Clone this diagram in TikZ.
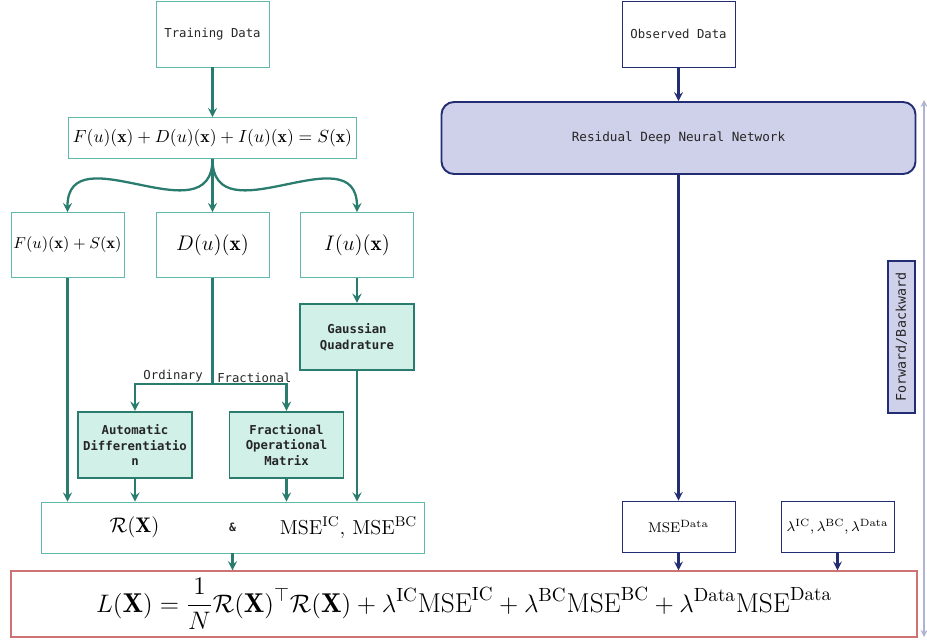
\documentclass[tikz,border=0pt]{standalone}
\usepackage{amsmath}
\usepackage{fontspec}
\setmonofont{DejaVu Sans Mono}
\usetikzlibrary{shapes.geometric, arrows}

\definecolor{tealdark}{RGB}{42,125,110}
\definecolor{teallight}{RGB}{95,185,170}
\definecolor{tealfill}{RGB}{208,240,232}
\definecolor{navyline}{RGB}{35,45,115}
\definecolor{lavender}{RGB}{207,208,234}
\definecolor{lossred}{RGB}{205,115,115}
\definecolor{fbgray}{RGB}{175,178,208}

\tikzstyle{databox} = [rectangle, minimum width=2.26cm, minimum height=1.32cm, inner sep=1pt, text centered, draw=teallight, font=\ttfamily\fontsize{7}{9}\selectfont, text=black!85]
\tikzstyle{eqbox} = [rectangle, minimum width=2.26cm, minimum height=1.3cm, inner sep=1pt, text centered, draw=teallight]
\tikzstyle{methodbox} = [rectangle, minimum width=2.28cm, minimum height=1.33cm, inner sep=1pt, align=center, draw=tealdark, line width=1.1pt, fill=tealfill, font=\ttfamily\bfseries\fontsize{7}{9}\selectfont, text=black!85]
\tikzstyle{obsbox} = [rectangle, minimum width=2.26cm, minimum height=1.32cm, inner sep=1pt, text centered, draw=navyline, font=\ttfamily\fontsize{7}{9}\selectfont, text=black!85]
\tikzstyle{netbox} = [rectangle, rounded corners=0.25cm, minimum width=9.48cm, minimum height=1.44cm, text centered, draw=navyline, line width=1.1pt, fill=lavender, font=\ttfamily\fontsize{7.2}{9}\selectfont, text=black!85]
\tikzstyle{mathbox} = [rectangle, minimum width=2.26cm, minimum height=1.02cm, inner sep=1pt, text centered, draw=navyline, font=\footnotesize]
\tikzstyle{arrow} = [line width=1.3pt,->,>=stealth,draw=tealdark]
\tikzstyle{navyarrow} = [line width=1.2pt,->,>=stealth,draw=navyline]
\tikzstyle{branchlabel} = [font=\ttfamily\fontsize{7}{9}\selectfont, text=black!85, inner sep=1.5pt]

\begin{document}
\begin{tikzpicture}[node distance=2.1cm]
\useasboundingbox (0,0) rectangle (18.54,-12.88);

% left branch: training data
\node (train) [databox] at (4.25,-0.68) {Training Data};
\node (eqn) [eqbox, below of=train, yshift=0.02cm, minimum width=5.76cm, minimum height=0.82cm, font=\fontsize{10}{12}\selectfont] {$F(u)(\mathbf{x})+D(u)(\mathbf{x})+I(u)(\mathbf{x})=S(\mathbf{x})$};
\node (dd) [eqbox, below of=eqn, yshift=-0.04cm, font=\large] {$D(u)(\mathbf{x})$};
\node (fs) [eqbox, left of=dd, xshift=-0.8cm, font=\fontsize{9.4}{11}\selectfont] {$F(u)(\mathbf{x})+S(\mathbf{x})$};
\node (ii) [eqbox, right of=dd, xshift=0.79cm, font=\large] {$I(u)(\mathbf{x})$};
\node (gq) [methodbox, below of=ii, yshift=0.26cm] {Gaussian\\Quadrature};
\node (ad) [methodbox, below of=dd, node distance=4cm, xshift=-1.55cm] {Automatic\\Differentiatio\\n};
\node (fom) [methodbox, right of=ad, xshift=0.93cm] {Fractional\\Operational\\Matrix};
\node (rbox) [eqbox, below of=fom, yshift=0.45cm, xshift=-1.08cm, minimum width=7.66cm, minimum height=1.02cm] {};
\node (rterm) [xshift=-1.96cm, font=\large] at (rbox) {$\mathcal{R}(\mathbf{X})$};
\node (amp) [font=\ttfamily\bfseries\fontsize{6.5}{8}\selectfont, text=black!85] at (rbox) {\&};
\node (mseterm) [xshift=2.32cm, font=\fontsize{11.5}{13}\selectfont] at (rbox) {$\mathrm{MSE}^{\mathrm{IC}},\,\mathrm{MSE}^{\mathrm{BC}}$};
\coordinate (fork) at (4.25,-7.68);

% right branch: observed data
\node (obs) [obsbox, right of=train, node distance=9.32cm] {Observed Data};
\node (dnn) [netbox, below of=obs, yshift=0.02cm] {Residual Deep Neural Network};
\node (msed) [mathbox, below of=dnn, node distance=7.77cm] {$\mathrm{MSE}^{\mathrm{Data}}$};
\node (lam) [mathbox, right of=msed, node distance=3.18cm] {$\lambda^{\mathrm{IC}},\lambda^{\mathrm{BC}},\lambda^{\mathrm{Data}}$};
\node (fb) [rectangle, rotate=90, minimum width=3.04cm, minimum height=0.54cm, inner sep=1pt, draw=navyline, line width=1pt, fill=lavender, font=\ttfamily\fontsize{7.6}{9}\selectfont, text=black!85] at (18.03,-6.74) {Forward/Backward};
\coordinate (fbtop) at (18.48,-2.0);
\coordinate (fbbot) at (18.48,-12.74);

% loss
\node (loss) [rectangle, minimum width=18.12cm, minimum height=1.32cm, draw=lossred, line width=0.7pt] at (9.28,-12.08) {\fontsize{15.5}{18}\selectfont$\displaystyle L(\mathbf{X})=\frac{1}{N}\mathcal{R}(\mathbf{X})^{\top}\mathcal{R}(\mathbf{X})+\lambda^{\mathrm{IC}}\mathrm{MSE}^{\mathrm{IC}}+\lambda^{\mathrm{BC}}\mathrm{MSE}^{\mathrm{BC}}+\lambda^{\mathrm{Data}}\mathrm{MSE}^{\mathrm{Data}}$\hspace{0.16cm}};

\draw [arrow] (train) -- (eqn);
\draw [arrow] (eqn.south) .. controls +(0,-1.6) and +(0,1.6) .. (fs.north);
\draw [arrow] (eqn.south) -- (dd.north);
\draw [arrow] (eqn.south) .. controls +(0,-1.6) and +(0,1.6) .. (ii.north);
\draw [arrow] (ii) -- (gq);
\draw [line width=1.3pt, draw=tealdark] (dd) -- (fork);
\draw [arrow] (fork) -| node[branchlabel, pos=0, above left, xshift=-0.12cm, yshift=-0.04cm] (lbord) {Ordinary} (ad);
\draw [arrow] (fork) -| node[branchlabel, pos=0, above right, xshift=0.02cm, yshift=-0.04cm] (lbfrac) {Fractional} (fom);
\draw [arrow] (fs) -- (fs |- rbox.north);
\draw [arrow] (ad) -- (ad |- rbox.north);
\draw [arrow] (fom) -- (fom |- rbox.north);
\draw [arrow] (gq) -- (gq |- rbox.north);
\draw [arrow] (rbox) -- (rbox |- loss.north);

\draw [navyarrow] (obs) -- (dnn);
\draw [navyarrow] (dnn) -- (msed);
\draw [navyarrow] (msed) -- (msed |- loss.north);
\draw [navyarrow] (lam) -- (lam |- loss.north);
\draw [draw=fbgray, line width=0.8pt, <->, >=stealth] (fbtop) -- (fbbot);

\end{tikzpicture}
\end{document}
